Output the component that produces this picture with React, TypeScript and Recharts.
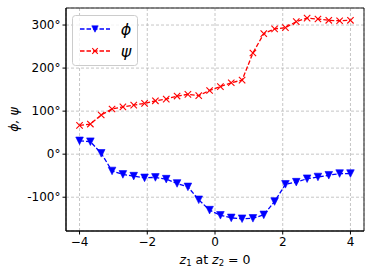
import React from 'react';
import { ComposedChart, Line, XAxis, YAxis, CartesianGrid, ReferenceArea } from 'recharts';

const xValues = [-4, -3.68, -3.36, -3.04, -2.72, -2.4, -2.08, -1.76, -1.44, -1.12, -0.8, -0.48, -0.16, 0.16, 0.48, 0.8, 1.12, 1.44, 1.76, 2.08, 2.4, 2.72, 3.04, 3.36, 3.68, 4];
const phiValues = [31, 29, 2, -39, -47, -51, -55, -54, -58, -68, -76, -106, -130, -142, -148, -150, -149, -141, -110, -70, -65, -57, -53, -49, -45, -45];
const psiValues = [67, 70, 91, 105, 110, 114, 118, 124, 128, 135, 139, 136, 148, 157, 166, 172, 235, 280, 291, 294, 308, 316, 314, 311, 310, 311];
const xTicks = [-4, -2, 0, 2, 4];
const yTicks = [-100, 0, 100, 200, 300];

const data = xValues.map((x, i) => ({ x, phi: phiValues[i], psi: psiValues[i] }));

const FONT = 'DejaVu Sans, sans-serif';

const TriDown = (props: any) => {
  const { cx, cy, s = 3.8 } = props;
  if (cx == null || cy == null) return null;
  return <path d={`M${cx - s},${cy - s} L${cx + s},${cy - s} L${cx},${cy + s} Z`} fill="#0000ff" stroke="#0000ff" strokeWidth={0.6} />;
};

const XMark = (props: any) => {
  const { cx, cy, s = 3.2 } = props;
  if (cx == null || cy == null) return null;
  return (
    <g stroke="#ff0000" strokeWidth={1.1}>
      <line x1={cx - s} y1={cy - s} x2={cx + s} y2={cy + s} />
      <line x1={cx - s} y1={cy + s} x2={cx + s} y2={cy - s} />
    </g>
  );
};

const fmtX = (v: number) => (v < 0 ? `\u2212${Math.abs(v)}` : `${v}`);
const fmtY = (v: number) => `${v}°`;

export default function App() {
  return (
    <div style={{ position: 'absolute', left: 0, top: 0, width: 374, height: 273, background: '#fff' }}>
      <ComposedChart width={374} height={273} data={data} margin={{ top: 8, right: 10, bottom: 0, left: 0 }}>
        <CartesianGrid stroke="#b8b8b8" strokeDasharray="3 2" strokeWidth={0.8} />
        <XAxis
          dataKey="x"
          type="number"
          domain={[-4.4, 4.4]}
          ticks={xTicks}
          tickFormatter={fmtX}
          allowDataOverflow
          height={42}
          tickSize={3.5}
          tickMargin={3}
          stroke="#000"
          tick={{ fill: '#000', fontSize: 12, fontFamily: FONT }}
          label={(p: any) => {
            const vb = p.viewBox || {};
            const cx = (vb.x ?? 66) + (vb.width ?? 298) / 2;
            return (
              <text x={cx} y={264} textAnchor="middle" fontSize={12.5} fontFamily={FONT} fill="#000">
                <tspan fontStyle="italic">z</tspan>
                <tspan fontSize={8.5} dy={2}>1</tspan>
                <tspan dy={-2}> at </tspan>
                <tspan fontStyle="italic">z</tspan>
                <tspan fontSize={8.5} dy={2}>2</tspan>
                <tspan dy={-2}> = 0</tspan>
              </text>
            );
          }}
        />
        <YAxis
          type="number"
          domain={[-178.5, 339.6]}
          ticks={yTicks}
          tickFormatter={fmtY}
          allowDataOverflow
          width={66}
          tickSize={3.5}
          tickMargin={2}
          stroke="#000"
          tick={{ fill: '#000', fontSize: 12, fontFamily: FONT }}
          label={(p: any) => {
            const vb = p.viewBox || {};
            const cy = (vb.y ?? 8) + (vb.height ?? 223) / 2;
            return (
              <text x={0} y={0} transform={`translate(18, ${cy}) rotate(-90)`} textAnchor="middle" fontSize={12.5} fontFamily={FONT} fill="#000" fontStyle="italic">
                ϕ, ψ
              </text>
            );
          }}
        />
        <ReferenceArea x1={-4.4} x2={4.4} y1={-178.5} y2={339.6} fill="none" stroke="#000" strokeWidth={0.9} ifOverflow="visible" />
        <Line dataKey="phi" stroke="#0000ff" strokeWidth={1.3} strokeDasharray="4.5 2" dot={<TriDown />} isAnimationActive={false} />
        <Line dataKey="psi" stroke="#ff0000" strokeWidth={1.3} strokeDasharray="4.5 2" dot={<XMark />} isAnimationActive={false} />
      </ComposedChart>
      <svg style={{ position: 'absolute', left: 72, top: 15 }} width={67} height={52}>
        <rect x={0.5} y={0.5} width={65} height={50} rx={3} fill="rgba(255,255,255,0.8)" stroke="#cccccc" strokeWidth={1} />
        <line x1={8} y1={14} x2={38} y2={14} stroke="#0000ff" strokeWidth={1.3} strokeDasharray="4.5 2" />
        <TriDown cx={23} cy={14} s={3.2} />
        <text x={54} y={20} fontSize={16} fontFamily={FONT} fontStyle="italic" fill="#000" textAnchor="middle">ϕ</text>
        <line x1={8} y1={36} x2={38} y2={36} stroke="#ff0000" strokeWidth={1.3} strokeDasharray="4.5 2" />
        <XMark cx={23} cy={36} s={2.8} />
        <text x={54} y={41.5} fontSize={16} fontFamily={FONT} fontStyle="italic" fill="#000" textAnchor="middle">ψ</text>
      </svg>
    </div>
  );
}
